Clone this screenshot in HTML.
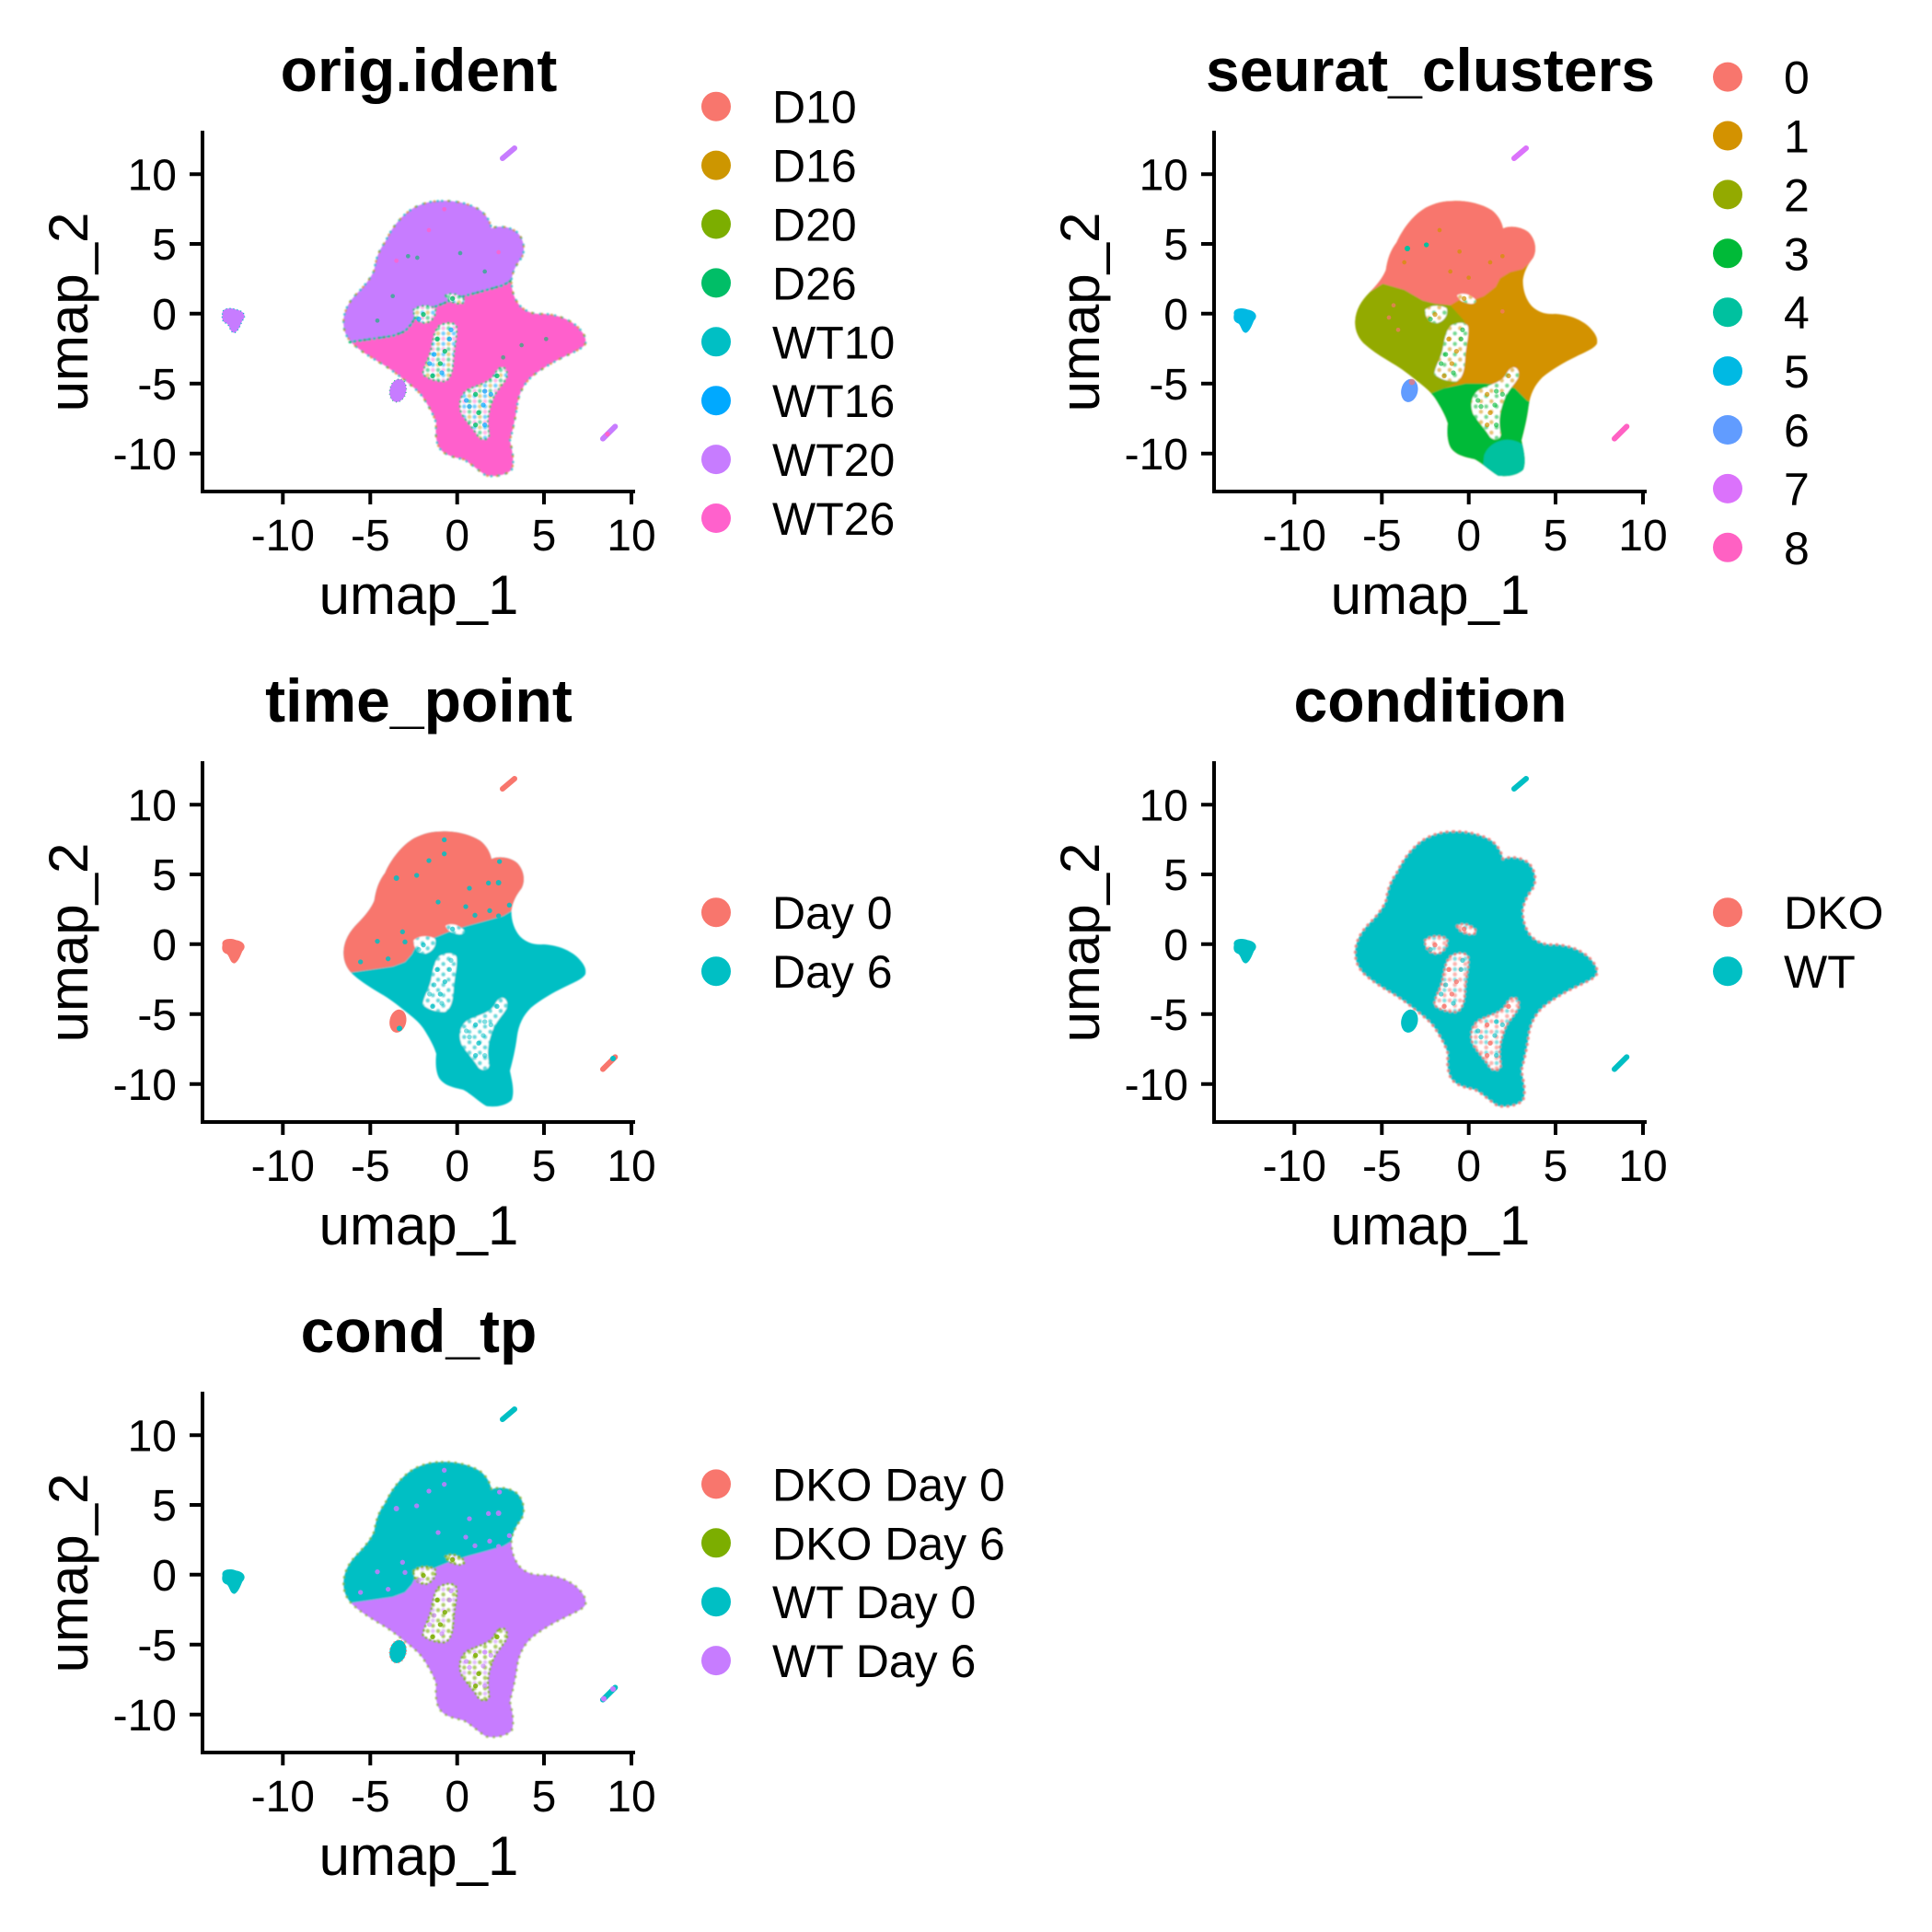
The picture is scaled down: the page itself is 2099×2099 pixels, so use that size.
<!DOCTYPE html>
<html>
<head>
<meta charset="utf-8">
<style>
  html,body{margin:0;padding:0;background:#fff;}
  svg{display:block;}
  text{font-family:"Liberation Sans",Arial,sans-serif;fill:#000;}
  .ttl{font-size:66px;font-weight:bold;text-anchor:middle;}
  .tk{font-size:48px;}
  .tky{text-anchor:end;}
  .tkx{text-anchor:middle;}
  .ax{font-size:60px;text-anchor:middle;}
  .lg{font-size:50px;}
</style>
</head>
<body>
<svg width="2099" height="2099" viewBox="0 0 2099 2099" xmlns="http://www.w3.org/2000/svg" xmlns:xlink="http://www.w3.org/1999/xlink">
<defs>
  <filter id="soft" x="-5%" y="-5%" width="110%" height="110%"><feGaussianBlur stdDeviation="2.2"/></filter>
  <path id="ol" d="M360,70 C400,68 450,78 485,100 C508,118 518,140 522,160 C540,150 580,152 605,172 C628,195 633,230 620,255 C605,275 592,295 587,325 C585,355 595,390 615,412 C635,432 660,440 690,438 C730,440 770,452 800,478 C818,495 833,515 828,535 C820,550 795,560 760,577 C720,596 680,620 650,645 C625,670 610,700 605,740 C600,780 590,820 582,850 C588,880 598,915 588,945 C570,965 530,970 505,965 C480,950 455,925 430,912 C400,905 370,900 352,875 C338,850 340,815 342,795 C335,770 318,740 300,712 C285,690 265,675 240,655 C215,635 190,615 160,598 C130,580 100,562 75,540 C50,520 38,490 40,460 C42,425 60,395 85,370 C110,345 130,320 140,295 C145,260 155,230 175,205 C195,160 230,115 270,92 C300,76 330,70 360,70 Z"/>
  <clipPath id="cl"><use href="#ol"/></clipPath>
  <path id="hl" d="M350,478 C370,465 400,462 408,480 C412,510 400,545 398,590 C396,625 388,650 370,658 C345,660 315,650 298,635 C300,610 318,585 325,555 C330,525 335,495 350,478 Z M548,615 C565,605 578,625 572,645 C560,668 535,690 525,720 C512,755 505,790 515,830 C512,850 495,852 480,840 C465,815 445,795 425,765 C412,735 420,700 445,685 C475,670 505,665 525,645 C535,630 540,620 548,615 Z M268,425 C285,408 320,408 338,420 C345,440 330,462 308,468 C285,468 268,455 268,425 Z M372,378 C385,368 410,372 425,385 C440,395 435,405 415,405 C395,402 378,395 372,378 Z"/>
  <path id="top" d="M-50,-50 L1100,-50 L1100,300 L600,300 L585,330 L560,345 L500,362 L440,378 L380,398 L330,418 L280,435 L262,470 L240,495 L200,510 L130,520 L60,530 L-50,535 Z"/>
  <path id="bd" d="M60,530 L130,520 L200,510 L240,495 L262,470 L280,435 L330,418 L380,398 L440,378 L500,362 L560,345 L585,330" fill="none"/>
  <path id="li" d="M-355,440 C-360,420 -330,416 -310,424 C-285,428 -275,445 -290,460 C-295,470 -300,490 -315,500 C-330,500 -330,480 -340,470 C-355,465 -358,455 -355,440 Z"/>
  <ellipse id="si" cx="217" cy="688" rx="27" ry="38" transform="rotate(12 217 688)"/>
  <path id="snT" d="M558,-69 L597,-102" fill="none"/>
  <path id="snR" d="M885,845 L925,805" fill="none"/>

  <pattern id="pR" width="34" height="34" patternUnits="userSpaceOnUse"><circle cx="8" cy="9" r="7" fill="#F8766D"/><circle cx="25" cy="26" r="7" fill="#F8766D"/></pattern>
  <pattern id="pC" width="34" height="34" patternUnits="userSpaceOnUse"><circle cx="8" cy="9" r="7" fill="#00BFC4"/><circle cx="25" cy="26" r="7" fill="#00BFC4"/></pattern>
  <pattern id="pC2" width="34" height="34" patternUnits="userSpaceOnUse" patternTransform="translate(17,0)"><circle cx="8" cy="9" r="7" fill="#00BFC4"/></pattern>
  <pattern id="pG" width="34" height="34" patternUnits="userSpaceOnUse"><circle cx="8" cy="9" r="7" fill="#7CAE00"/><circle cx="25" cy="26" r="7" fill="#7CAE00"/></pattern>
  <pattern id="pP" width="34" height="34" patternUnits="userSpaceOnUse" patternTransform="translate(17,0)"><circle cx="8" cy="9" r="7" fill="#C77CFF"/></pattern>
  <pattern id="pGr" width="34" height="34" patternUnits="userSpaceOnUse"><circle cx="8" cy="9" r="7" fill="#00BE67"/><circle cx="25" cy="26" r="7" fill="#00A9FF"/></pattern>
  <pattern id="pK" width="34" height="34" patternUnits="userSpaceOnUse" patternTransform="translate(17,0)"><circle cx="8" cy="9" r="7" fill="#FF61CC"/><circle cx="25" cy="26" r="7" fill="#CD9600"/></pattern>
  <pattern id="pO" width="34" height="34" patternUnits="userSpaceOnUse"><circle cx="8" cy="9" r="7" fill="#D39200"/><circle cx="25" cy="26" r="7" fill="#00BA38"/></pattern>

  <g id="hd1">
    <circle cx="330" cy="640" r="8"/><circle cx="355" cy="600" r="8"/><circle cx="370" cy="560" r="8"/>
    <circle cx="345" cy="520" r="8"/><circle cx="470" cy="700" r="8"/><circle cx="540" cy="640" r="8"/>
    <circle cx="480" cy="760" r="8"/><circle cx="470" cy="800" r="8"/><circle cx="300" cy="440" r="8"/>
    <circle cx="395" cy="388" r="8"/>
  </g>
  <g id="hd2">
    <circle cx="385" cy="520" r="8"/><circle cx="320" cy="600" r="8"/><circle cx="360" cy="630" r="8"/>
    <circle cx="390" cy="490" r="8"/><circle cx="335" cy="570" r="8"/><circle cx="500" cy="690" r="8"/>
    <circle cx="450" cy="740" r="8"/><circle cx="500" cy="800" r="8"/><circle cx="520" cy="700" r="8"/>
    <circle cx="440" cy="720" r="8"/><circle cx="495" cy="735" r="8"/><circle cx="285" cy="455" r="8"/>
  </g>
  <g id="td">
    <circle cx="368" cy="97" r="8"/><circle cx="368" cy="143" r="8"/><circle cx="318" cy="165" r="8"/>
    <circle cx="212" cy="222" r="9"/><circle cx="278" cy="213" r="8"/><circle cx="450" cy="255" r="8"/>
    <circle cx="512" cy="238" r="8"/><circle cx="545" cy="237" r="9"/><circle cx="348" cy="300" r="8"/>
    <circle cx="438" cy="315" r="8"/><circle cx="516" cy="328" r="8"/><circle cx="468" cy="343" r="8"/>
    <circle cx="150" cy="428" r="8"/><circle cx="232" cy="397" r="8"/><circle cx="185" cy="485" r="8"/>
    <circle cx="95" cy="495" r="8"/><circle cx="548" cy="168" r="8"/><circle cx="580" cy="310" r="8"/>
    <circle cx="545" cy="345" r="8"/><circle cx="240" cy="430" r="8"/>
  </g>
</defs>

<rect width="2099" height="2099" fill="#fff"/>

<!-- ============ PANEL 1: orig.ident ============ -->
<g transform="translate(360,195) scale(0.333333)">
  <g filter="url(#soft)">
  <g clip-path="url(#cl)">
    <rect x="-50" y="-50" width="1150" height="1100" fill="#FF61CC"/>
    <use href="#top" fill="#C77CFF"/>
  </g>
  <use href="#ol" fill="none" stroke="#00BFC4" stroke-width="8" stroke-dasharray="2 22" stroke-linecap="round" opacity="0.7"/>
  <use href="#ol" fill="none" stroke="#CD9600" stroke-width="8" stroke-dasharray="2 30" stroke-dashoffset="11" stroke-linecap="round" opacity="0.6"/>
  <use href="#bd" stroke="#00BE67" stroke-width="9" stroke-dasharray="2 14" stroke-linecap="round" opacity="0.8"/>
  <use href="#bd" stroke="#00BFC4" stroke-width="8" stroke-dasharray="2 20" stroke-dashoffset="8" stroke-linecap="round" opacity="0.8"/>
  <use href="#hl" fill="#fff"/>
  <use href="#hl" fill="url(#pGr)" opacity="0.55"/>
  <use href="#hl" fill="url(#pK)" opacity="0.45"/>
  <use href="#hl" fill="none" stroke="#00BE67" stroke-width="7" stroke-dasharray="2 14" stroke-linecap="round" opacity="0.8"/>
  </g>
  <use href="#hd1" fill="#00BE67" opacity="0.8"/>
  <use href="#hd2" fill="#00A9FF" opacity="0.7"/>
  <g fill="#00BE67" opacity="0.6">
    <circle cx="250" cy="250" r="7"/><circle cx="280" cy="255" r="7"/><circle cx="420" cy="240" r="7"/><circle cx="500" cy="300" r="7"/><circle cx="200" cy="380" r="7"/><circle cx="150" cy="460" r="7"/><circle cx="620" cy="540" r="7"/><circle cx="700" cy="520" r="7"/><circle cx="560" cy="580" r="7"/>
  </g>
  <g fill="#FF61CC" opacity="0.8"><circle cx="368" cy="97" r="7"/><circle cx="318" cy="165" r="7"/><circle cx="545" cy="237" r="7"/><circle cx="212" cy="265" r="7"/></g>
  <use href="#si" fill="#C77CFF" stroke="#00BE67" stroke-width="4" stroke-dasharray="2 10"/>
  <use href="#li" fill="#C77CFF" stroke="#00BFC4" stroke-width="4" stroke-dasharray="3 9"/>
  <use href="#snT" stroke="#C77CFF" stroke-width="18" stroke-linecap="round"/>
  <use href="#snR" stroke="#C77CFF" stroke-width="18" stroke-linecap="round"/>
  <circle cx="900" cy="830" r="8" fill="#FF61CC"/>
</g>

<!-- ============ PANEL 2: seurat_clusters ============ -->
<g transform="translate(1459,195) scale(0.333333)">
  <g filter="url(#soft)">
  <g clip-path="url(#cl)">
    <rect x="-50" y="-50" width="1150" height="1100" fill="#D39200"/>
    <path fill="#F8766D" d="M-50,-50 L1100,-50 L1100,270 L610,270 L585,292 L545,302 L512,322 L498,350 L460,380 L420,395 L380,392 L350,410 L300,405 L260,395 L200,360 L130,340 L80,372 L-50,345 Z"/>
    <path fill="#93AA00" d="M-50,345 L80,372 L130,340 L200,360 L260,395 L300,405 L350,410 L395,460 L400,520 L392,600 L375,660 L330,680 L300,705 L-50,705 Z"/>
    <path fill="#00BA38" d="M280,700 L330,680 L400,665 L460,665 L520,670 L560,680 L600,720 L640,740 L640,1100 L280,1100 Z"/>
    <path fill="#00C19F" d="M460,900 C470,870 500,850 535,848 C570,850 600,865 610,900 L620,1000 L450,1000 Z"/>
  </g>
  <use href="#hl" fill="#fff"/>
  <use href="#hl" fill="url(#pO)" opacity="0.55"/>
  </g>
  <use href="#hd1" fill="#D39200" opacity="0.7"/>
  <use href="#hd2" fill="#00BA38" opacity="0.6"/>
  <g fill="#D39200" opacity="0.7">
    <circle cx="315" cy="165" r="7"/><circle cx="350" cy="300" r="7"/><circle cx="410" cy="320" r="7"/><circle cx="480" cy="270" r="7"/><circle cx="520" cy="250" r="7"/><circle cx="380" cy="235" r="7"/><circle cx="200" cy="270" r="7"/>
  </g>
  <g fill="#00C19F"><circle cx="210" cy="225" r="9"/><circle cx="272" cy="213" r="8"/></g>
  <g fill="#F8766D" opacity="0.7"><circle cx="165" cy="410" r="7"/><circle cx="150" cy="450" r="7"/><circle cx="180" cy="490" r="7"/><circle cx="520" cy="430" r="7"/></g>
  <use href="#si" fill="#619CFF"/>
  <circle cx="225" cy="660" r="10" fill="#F8766D" opacity="0.7"/>
  <use href="#li" fill="#00B9E3"/>
  <use href="#snT" stroke="#DB72FB" stroke-width="18" stroke-linecap="round"/>
  <use href="#snR" stroke="#FF61C3" stroke-width="18" stroke-linecap="round"/>
</g>

<!-- ============ PANEL 3: time_point ============ -->
<g transform="translate(360,880) scale(0.333333)">
  <g filter="url(#soft)">
  <g clip-path="url(#cl)">
    <rect x="-50" y="-50" width="1150" height="1100" fill="#00BFC4"/>
    <use href="#top" fill="#F8766D"/>
  </g>
  <use href="#hl" fill="#fff"/>
  <use href="#hl" fill="url(#pC)" opacity="0.6"/>
  </g>
  <use href="#hd1" fill="#00BFC4" opacity="0.7"/>
  <use href="#hd2" fill="#00BFC4" opacity="0.5"/>
  <use href="#td" fill="#00BFC4" opacity="0.85"/>
  <use href="#si" fill="#F8766D"/>
  <circle cx="222" cy="712" r="9" fill="#00BFC4"/>
  <use href="#li" fill="#F8766D"/>
  <use href="#snT" stroke="#F8766D" stroke-width="18" stroke-linecap="round"/>
  <use href="#snR" stroke="#F8766D" stroke-width="18" stroke-linecap="round"/>
  <circle cx="918" cy="810" r="9" fill="#00BFC4"/>
</g>

<!-- ============ PANEL 4: condition ============ -->
<g transform="translate(1459,880) scale(0.333333)">
  <g filter="url(#soft)">
  <use href="#ol" fill="#00BFC4"/>
  <use href="#ol" fill="none" stroke="#F8766D" stroke-width="9" stroke-dasharray="2 18" stroke-linecap="round" opacity="0.75"/>
  <use href="#hl" fill="#fff"/>
  <use href="#hl" fill="url(#pR)" opacity="0.55"/>
  <use href="#hl" fill="url(#pC2)" opacity="0.5"/>
  <use href="#hl" fill="none" stroke="#F8766D" stroke-width="8" stroke-dasharray="2 14" stroke-linecap="round" opacity="0.8"/>
  </g>
  <use href="#hd1" fill="#F8766D" opacity="0.8"/>
  <use href="#hd2" fill="#00BFC4" opacity="0.6"/>
  <use href="#si" fill="#00BFC4"/>
  <use href="#li" fill="#00BFC4"/>
  <use href="#snT" stroke="#00BFC4" stroke-width="18" stroke-linecap="round"/>
  <use href="#snR" stroke="#00BFC4" stroke-width="18" stroke-linecap="round"/>
</g>

<!-- ============ PANEL 5: cond_tp ============ -->
<g transform="translate(360,1565) scale(0.333333)">
  <g filter="url(#soft)">
  <g clip-path="url(#cl)">
    <rect x="-50" y="-50" width="1150" height="1100" fill="#C77CFF"/>
    <use href="#top" fill="#00BFC4"/>
  </g>
  <use href="#ol" fill="none" stroke="#7CAE00" stroke-width="8" stroke-dasharray="2 20" stroke-linecap="round" opacity="0.6"/>
  <use href="#hl" fill="#fff"/>
  <use href="#hl" fill="url(#pG)" opacity="0.6"/>
  <use href="#hl" fill="url(#pP)" opacity="0.5"/>
  <use href="#hl" fill="none" stroke="#7CAE00" stroke-width="8" stroke-dasharray="2 13" stroke-linecap="round" opacity="0.85"/>
  </g>
  <use href="#hd1" fill="#7CAE00" opacity="0.85"/>
  <use href="#hd2" fill="#C77CFF" opacity="0.6"/>
  <use href="#td" fill="#C77CFF" opacity="0.85"/>
  <use href="#si" fill="#00BFC4" stroke="#F8766D" stroke-width="4" stroke-dasharray="3 10"/>
  <use href="#li" fill="#00BFC4"/>
  <use href="#snT" stroke="#00BFC4" stroke-width="18" stroke-linecap="round"/>
  <use href="#snR" stroke="#00BFC4" stroke-width="18" stroke-linecap="round"/>
  <circle cx="918" cy="810" r="9" fill="#C77CFF"/><circle cx="888" cy="842" r="9" fill="#C77CFF"/>
</g>

<!-- ============ AXES ============ -->
<g id="axes1">
  <path d="M220,142 V536 M218,534 H690 M206,189.3 H220 M206,265 H220 M206,340.7 H220 M206,416.7 H220 M206,492.7 H220 M307.3,534 V548 M402.3,534 V548 M496.7,534 V548 M591,534 V548 M686,534 V548" stroke="#000" stroke-width="4" fill="none"/>
  <text class="tk tky" x="192" y="206.5">10</text>
  <text class="tk tky" x="192" y="282.2">5</text>
  <text class="tk tky" x="192" y="357.9">0</text>
  <text class="tk tky" x="192" y="433.9">-5</text>
  <text class="tk tky" x="192" y="509.9">-10</text>
  <text class="tk tkx" x="307.3" y="598">-10</text>
  <text class="tk tkx" x="402.3" y="598">-5</text>
  <text class="tk tkx" x="496.7" y="598">0</text>
  <text class="tk tkx" x="591" y="598">5</text>
  <text class="tk tkx" x="686" y="598">10</text>
  <text class="ax" x="455" y="667">umap_1</text>
  <text class="ax" transform="translate(95,339) rotate(-90)">umap_2</text>
</g>
<use href="#axes1" transform="translate(1099,0)"/>
<use href="#axes1" transform="translate(0,685)"/>
<use href="#axes1" transform="translate(1099,685)"/>
<use href="#axes1" transform="translate(0,1370)"/>

<!-- ============ TITLES ============ -->
<text class="ttl" x="455" y="99">orig.ident</text>
<text class="ttl" x="1554" y="99">seurat_clusters</text>
<text class="ttl" x="455" y="784">time_point</text>
<text class="ttl" x="1554" y="784">condition</text>
<text class="ttl" x="455" y="1469">cond_tp</text>

<!-- ============ LEGENDS ============ -->
<g>
  <circle cx="778" cy="115.7" r="16" fill="#F8766D"/><text class="lg" x="839" y="133.7">D10</text>
  <circle cx="778" cy="179.6" r="16" fill="#CD9600"/><text class="lg" x="839" y="197.6">D16</text>
  <circle cx="778" cy="243.5" r="16" fill="#7CAE00"/><text class="lg" x="839" y="261.5">D20</text>
  <circle cx="778" cy="307.4" r="16" fill="#00BE67"/><text class="lg" x="839" y="325.4">D26</text>
  <circle cx="778" cy="371.3" r="16" fill="#00BFC4"/><text class="lg" x="839" y="389.3">WT10</text>
  <circle cx="778" cy="435.2" r="16" fill="#00A9FF"/><text class="lg" x="839" y="453.2">WT16</text>
  <circle cx="778" cy="499.1" r="16" fill="#C77CFF"/><text class="lg" x="839" y="517.1">WT20</text>
  <circle cx="778" cy="563" r="16" fill="#FF61CC"/><text class="lg" x="839" y="581">WT26</text>
</g>
<g>
  <circle cx="1877" cy="83.6" r="16" fill="#F8766D"/><text class="lg" x="1938" y="101.6">0</text>
  <circle cx="1877" cy="147.5" r="16" fill="#D39200"/><text class="lg" x="1938" y="165.5">1</text>
  <circle cx="1877" cy="211.4" r="16" fill="#93AA00"/><text class="lg" x="1938" y="229.4">2</text>
  <circle cx="1877" cy="275.3" r="16" fill="#00BA38"/><text class="lg" x="1938" y="293.3">3</text>
  <circle cx="1877" cy="339.2" r="16" fill="#00C19F"/><text class="lg" x="1938" y="357.2">4</text>
  <circle cx="1877" cy="403.1" r="16" fill="#00B9E3"/><text class="lg" x="1938" y="421.1">5</text>
  <circle cx="1877" cy="467" r="16" fill="#619CFF"/><text class="lg" x="1938" y="485">6</text>
  <circle cx="1877" cy="530.9" r="16" fill="#DB72FB"/><text class="lg" x="1938" y="548.9">7</text>
  <circle cx="1877" cy="594.8" r="16" fill="#FF61C3"/><text class="lg" x="1938" y="612.8">8</text>
</g>
<g>
  <circle cx="778" cy="991.2" r="16" fill="#F8766D"/><text class="lg" x="839" y="1009.2">Day 0</text>
  <circle cx="778" cy="1055.2" r="16" fill="#00BFC4"/><text class="lg" x="839" y="1073.2">Day 6</text>
</g>
<g>
  <circle cx="1877" cy="991.2" r="16" fill="#F8766D"/><text class="lg" x="1938" y="1009.2">DKO</text>
  <circle cx="1877" cy="1055.2" r="16" fill="#00BFC4"/><text class="lg" x="1938" y="1073.2">WT</text>
</g>
<g>
  <circle cx="778" cy="1612.4" r="16" fill="#F8766D"/><text class="lg" x="839" y="1630.4">DKO Day 0</text>
  <circle cx="778" cy="1676.3" r="16" fill="#7CAE00"/><text class="lg" x="839" y="1694.3">DKO Day 6</text>
  <circle cx="778" cy="1740.2" r="16" fill="#00BFC4"/><text class="lg" x="839" y="1758.2">WT Day 0</text>
  <circle cx="778" cy="1804.1" r="16" fill="#C77CFF"/><text class="lg" x="839" y="1822.1">WT Day 6</text>
</g>
</svg>
</body>
</html>
